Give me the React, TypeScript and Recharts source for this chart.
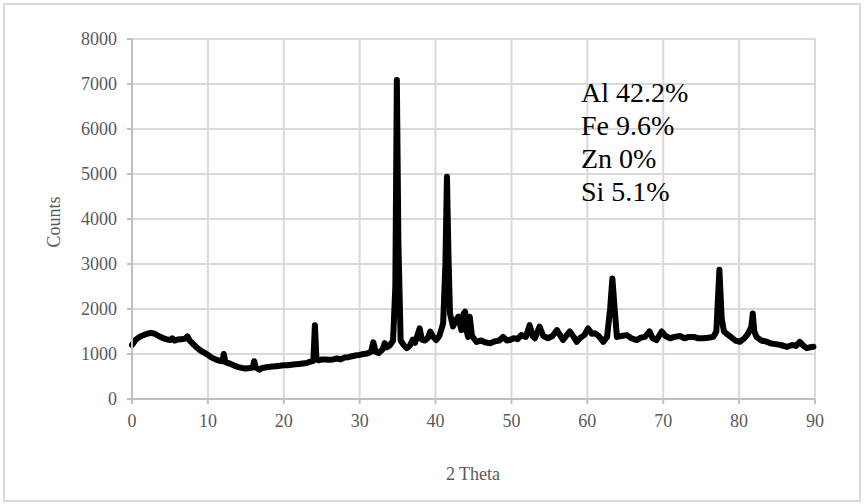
import { LineChart, Line, XAxis, YAxis, CartesianGrid, Label } from 'recharts';

const twoTheta = [
  0.0, 0.5, 1.0, 1.5, 2.0, 2.5, 3.0, 3.5, 4.0, 4.5, 5.0, 5.3, 5.6, 6.0, 6.5, 7.0, 7.3, 7.6, 8.0, 8.5,
  9.0, 9.5, 10.0, 10.5, 11.0, 11.5, 11.9, 12.1, 12.3, 13.0, 13.5, 14.0, 14.5, 15.0, 15.5, 15.9, 16.1, 16.3, 16.8, 17.0,
  17.5, 18.0, 18.5, 19.0, 19.5, 20.0, 20.5, 21.0, 21.5, 22.0, 22.5, 23.0, 23.5, 23.9, 24.1, 24.3, 24.6, 25.0, 25.5, 26.0,
  26.5, 27.0, 27.5, 28.0, 28.5, 29.0, 29.5, 30.0, 30.5, 31.0, 31.5, 31.8, 32.1, 32.5, 33.0, 33.3, 33.6, 34.0, 34.4, 34.7,
  34.9, 35.1, 35.4, 35.8, 36.2, 36.6, 37.0, 37.3, 37.9, 38.2, 38.6, 39.0, 39.3, 39.7, 40.1, 40.5, 41.0, 41.3, 41.5, 41.7,
  41.9, 42.3, 42.7, 43.0, 43.4, 43.7, 43.9, 44.1, 44.3, 44.5, 44.8, 45.4, 46.0, 46.5, 47.2, 47.8, 48.4, 48.9, 49.4, 49.8,
  50.3, 50.8, 51.3, 51.9, 52.4, 52.8, 53.1, 53.7, 54.2, 54.8, 55.4, 56.0, 56.4, 56.8, 57.2, 57.7, 58.2, 58.6, 59.0, 59.6,
  60.1, 60.6, 61.0, 61.5, 62.1, 62.6, 63.0, 63.3, 63.6, 63.9, 64.5, 65.2, 65.8, 66.5, 67.0, 67.6, 68.2, 68.6, 69.1, 69.8,
  70.3, 70.9, 71.5, 72.2, 72.8, 73.4, 74.0, 74.6, 75.3, 75.9, 76.6, 77.0, 77.4, 77.7, 78.0, 78.3, 78.9, 79.5, 80.1, 80.7,
  81.2, 81.6, 81.8, 82.0, 82.3, 82.9, 83.5, 84.1, 84.8, 85.5, 86.3, 87.0, 87.5, 88.0, 88.5, 88.9, 89.4, 89.8,
];

const counts = [
  1200, 1320, 1380, 1420, 1450, 1470, 1450, 1400, 1360, 1330, 1310, 1350, 1300, 1320, 1330, 1340, 1390, 1300, 1230, 1150,
  1080, 1030, 980, 920, 880, 850, 840, 1000, 820, 780, 740, 710, 690, 680, 690, 700, 840, 700, 650, 680,
  700, 710, 720, 730, 740, 750, 750, 760, 770, 780, 790, 800, 830, 850, 1640, 900, 860, 880, 880, 870,
  880, 900, 880, 920, 930, 950, 970, 980, 1000, 1010, 1050, 1260, 1050, 1020, 1100, 1240, 1150, 1200, 1300, 2500,
  7090, 3500, 1300, 1200, 1130, 1180, 1320, 1250, 1570, 1320, 1300, 1360, 1500, 1380, 1310, 1400, 1680, 3000, 4940, 3200,
  1900, 1610, 1750, 1830, 1530, 1900, 1940, 1500, 1380, 1830, 1400, 1270, 1300, 1260, 1240, 1280, 1300, 1380, 1300, 1310,
  1350, 1330, 1420, 1380, 1640, 1400, 1350, 1610, 1400, 1350, 1400, 1530, 1420, 1310, 1400, 1500, 1380, 1270, 1350, 1420,
  1570, 1450, 1460, 1400, 1270, 1380, 2000, 2680, 2000, 1380, 1400, 1420, 1350, 1310, 1360, 1380, 1500, 1350, 1310, 1500,
  1400, 1350, 1380, 1400, 1350, 1380, 1380, 1350, 1350, 1360, 1380, 1500, 2870, 1800, 1500, 1460, 1380, 1300, 1270, 1350,
  1460, 1600, 1900, 1500, 1380, 1300, 1280, 1240, 1220, 1200, 1160, 1200, 1180, 1270, 1180, 1130, 1150, 1160,
];

const xTicks = [0, 10, 20, 30, 40, 50, 60, 70, 80, 90];
const yTicks = [0, 1000, 2000, 3000, 4000, 5000, 6000, 7000, 8000];
const composition = ['Al 42.2%', 'Fe 9.6%', 'Zn 0%', 'Si 5.1%'];

const data = twoTheta.map((t, i) => ({ t, c: counts[i] }));

const FONT = '"Liberation Serif", "DejaVu Serif", serif';
const tickStyle = { fill: '#595959', fontSize: 18, fontFamily: FONT };

export default function App() {
  return (
    <div style={{ position: 'absolute', left: 0, top: 0, width: 866, height: 504, background: '#fff' }}>
      <div
        style={{
          position: 'absolute',
          left: 3,
          top: 3,
          width: 854,
          height: 495,
          border: '2px solid #d9d9d9',
        }}
      />
      <LineChart
        width={866}
        height={504}
        data={data}
        margin={{ top: 39, right: 51, bottom: 0, left: 0 }}
        style={{ position: 'absolute', left: 0, top: 0 }}
      >
        <CartesianGrid stroke="#d9d9d9" strokeWidth={2} />
        <XAxis
          dataKey="t"
          type="number"
          domain={[0, 90]}
          ticks={xTicks}
          height={105}
          tick={tickStyle}
          tickSize={5}
          tickMargin={10}
          axisLine={{ stroke: '#bfbfbf', strokeWidth: 2 }}
          tickLine={{ stroke: '#bfbfbf', strokeWidth: 2 }}
        >
          <Label
            content={() => (
              <text x={473} y={480} textAnchor="middle" fill="#595959" fontSize={18} fontFamily={FONT}>
                2 Theta
              </text>
            )}
          />
        </XAxis>
        <YAxis
          type="number"
          domain={[0, 8000]}
          ticks={yTicks}
          width={132}
          tick={tickStyle}
          tickSize={5}
          tickMargin={10}
          axisLine={{ stroke: '#bfbfbf', strokeWidth: 2 }}
          tickLine={{ stroke: '#bfbfbf', strokeWidth: 2 }}
        >
          <Label
            content={() => (
              <text
                x={60}
                y={222}
                textAnchor="middle"
                transform="rotate(-90 60 222)"
                fill="#595959"
                fontSize={18}
                fontFamily={FONT}
              >
                Counts
              </text>
            )}
          />
        </YAxis>
        <Line
          type="linear"
          dataKey="c"
          stroke="#000"
          strokeWidth={6}
          strokeLinejoin="round"
          strokeLinecap="round"
          dot={false}
          isAnimationActive={false}
        />
      </LineChart>
      <div
        style={{
          position: 'absolute',
          left: 581,
          top: 76,
          fontFamily: FONT,
          fontSize: 28,
          lineHeight: '33px',
          color: '#000',
        }}
      >
        {composition.map((s) => (
          <div key={s}>{s}</div>
        ))}
      </div>
    </div>
  );
}
